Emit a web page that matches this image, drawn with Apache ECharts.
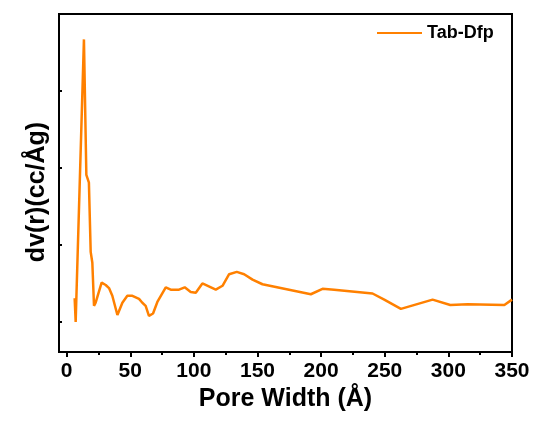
<!DOCTYPE html>
<html>
<head>
<meta charset="utf-8">
<script src="https://cdn.jsdelivr.net/npm/echarts@6/dist/echarts.min.js"></script>
<style>
html, body { margin: 0; padding: 0; background: #fff; }
#main { width: 539px; height: 421px; }
</style>
</head>
<body>
<div id="main"></div>
<script>
// 孔径分布数据
var poreWidth = [6.3, 7.1, 8.4, 13.6, 15.5, 17.5, 18.9, 20.2, 21.5, 22.8, 27.5, 30.7, 33.3, 35.9, 39.9, 41.1, 43.8, 47.7, 51.7, 56.9, 59.5, 62.1, 64.7, 67.9, 71.3, 77.9, 81.8, 88.3, 92.8, 97.5, 101.5, 105.4, 106.7, 117.2, 122.5, 127.7, 133.7, 139.5, 146.1, 153.9, 191.9, 201.1, 210.2, 240.4, 249.6, 262.7, 287.6, 301.5, 315.2, 344, 350];
var dvr = [0.31, 0.00, 0.00, 3.67, 1.91, 1.81, 0.91, 0.77, 0.21, 0.25, 0.51, 0.48, 0.44, 0.34, 0.09, 0.10, 0.25, 0.34, 0.34, 0.30, 0.25, 0.21, 0.08, 0.11, 0.26, 0.45, 0.42, 0.42, 0.45, 0.39, 0.38, 0.47, 0.50, 0.42, 0.47, 0.62, 0.65, 0.62, 0.55, 0.49, 0.36, 0.43, 0.42, 0.37, 0.29, 0.17, 0.29, 0.22, 0.23, 0.22, 0.29];
var xMajorTicks = [0, 50, 100, 150, 200, 250, 300, 350];
var xMinorTicks = [25, 75, 125, 175, 225, 275, 325];
var yTicks = [0, 1, 2, 3];
var seriesName = 'Tab-Dfp';

var data = [];
for (var i = 0; i < poreWidth.length; i++) {
    data.push([poreWidth[i], dvr[i]]);
}

var font = 'Liberation Sans, Arial, sans-serif';
var myChart = echarts.init(document.getElementById('main'));

var option = {
    animation: false,
    grid: {
        left: 59,
        right: 27,
        top: 14,
        bottom: 69,
        show: true,
        borderColor: '#000',
        borderWidth: 2
    },
    legend: {
        left: 372,
        top: 19,
        itemWidth: 45,
        itemHeight: 20,
        itemGap: 6,
        icon: 'path://M0,9L45,9L45,11L0,11Z',
        data: [seriesName],
        textStyle: { fontFamily: font, fontWeight: 'bold', fontSize: 18, color: '#000' }
    },
    xAxis: [
        {
            type: 'value',
            min: -6,
            max: 350,
            name: 'Pore Width (Å)',
            nameLocation: 'middle',
            nameGap: 35,
            nameTextStyle: { fontFamily: font, fontWeight: 'bold', fontSize: 25, color: '#000' },
            axisLine: { show: true, onZero: false, lineStyle: { color: '#000', width: 2 } },
            axisTick: { show: true, customValues: xMajorTicks, length: 5, lineStyle: { color: '#000', width: 2 } },
            axisLabel: { customValues: xMajorTicks, margin: 9, fontFamily: font, fontWeight: 'bold', fontSize: 21, color: '#000' },
            splitLine: { show: false }
        },
        {
            type: 'value',
            position: 'bottom',
            min: -6,
            max: 350,
            axisLine: { show: false, onZero: false },
            axisTick: { show: true, customValues: xMinorTicks, length: 3, lineStyle: { color: '#000', width: 2 } },
            axisLabel: { show: false },
            splitLine: { show: false }
        }
    ],
    yAxis: {
        type: 'value',
        min: -0.39,
        max: 4,
        name: 'dv(r)(cc/Åg)',
        nameLocation: 'middle',
        nameGap: 9,
        nameTextStyle: { fontFamily: font, fontWeight: 'bold', fontSize: 25, color: '#000', padding: [0, 18, 0, 0] },
        axisLine: { show: true, onZero: false, lineStyle: { color: '#000', width: 2 } },
        axisTick: { show: true, inside: true, customValues: yTicks, length: 3, lineStyle: { color: '#000', width: 2 } },
        axisLabel: { show: false },
        splitLine: { show: false }
    },
    series: [
        {
            name: seriesName,
            type: 'line',
            xAxisIndex: 0,
            data: data,
            showSymbol: false,
            lineStyle: { color: '#ff8000', width: 2.5 },
            itemStyle: { color: '#ff8000' }
        }
    ]
};

myChart.setOption(option);
</script>
</body>
</html>
